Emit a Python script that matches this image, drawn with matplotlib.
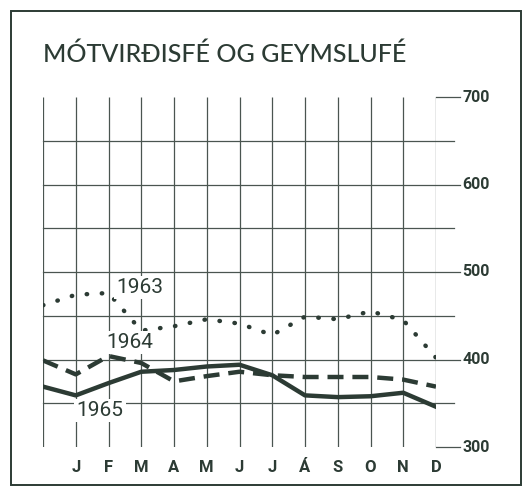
import matplotlib.pyplot as plt
from matplotlib.patches import Rectangle

# month index 0 = start of year, 1..12 = end of each month
months = ["J", "F", "M", "A", "M", "J", "J", "Á", "S", "O", "N", "D"]
x = list(range(13))

v1963 = [462, 474, 476, 433, 438, 446, 441, 428, 449, 446, 455, 445, 402]
v1964 = [399, 383, 404, 396, 375, 381, 386, 382, 380, 380, 380, 377, 369]
v1965 = [369, 359, 373, 386, 388, 392, 394, 382, 359, 357, 358, 362, 346]

yticks = [300, 400, 500, 600, 700]
title = "MÓTVIRÐISFÉ OG GEYMSLUFÉ"

ink = "#2c3b34"
grid = "#4a5550"

W, H = 525, 487
fig = plt.figure(figsize=(W / 100, H / 100), dpi=100)
fig.patch.set_facecolor("white")

# outer frame
fig.patches.append(Rectangle((11 / W, 1 - 485 / H), (521 - 11) / W, (485 - 11) / H,
                             transform=fig.transFigure, fill=False,
                             edgecolor=ink, linewidth=1.4))

ax = fig.add_axes([43 / W, 1 - 447 / H, (436 - 43) / W, 350 / H])
ax.set_xlim(0, 12)
ax.set_ylim(300, 700)
ax.axis("off")

# grid
ax.vlines(x, 300, 700, color=grid, linewidth=0.9)
for v in range(350, 700, 50):
    xe = 12.72 if v % 100 == 0 else 12.55
    ax.plot([0, xe], [v, v], color=grid, linewidth=0.9, clip_on=False)
for v in (300, 700):
    ax.plot([12, 12.72], [v, v], color=grid, linewidth=0.9, clip_on=False)
for v in yticks:
    ax.text(12.8, v, str(v), ha="left", va="center", fontsize=11.5,
            fontweight="semibold", family="Roboto", color=ink)

for i, m in enumerate(months):
    ax.text(i + 1, 277, m, ha="center", va="center", fontsize=12,
            fontweight="semibold", family="Roboto", color=ink, clip_on=False)

ax.plot(x, v1963, color=ink, linewidth=3.2, linestyle=(0, (0.1, 3.3)),
        dash_capstyle="round", solid_capstyle="round")
ax.plot(x, v1964, color=ink, linewidth=3.2, linestyle=(0, (3.6, 2)))
ax.plot(x, v1965, color=ink, linewidth=3.2)

lab = dict(fontsize=15, family="Roboto", color=ink, ha="center", va="center",
           bbox=dict(facecolor="white", edgecolor="none", pad=1.5))
ax.text(2.96, 482, "1963", **lab)
ax.text(2.66, 419, "1964", **lab)
ax.text(1.74, 342, "1965", **lab)

fig.text(43 / W, 1 - 54 / H, title, ha="left", va="center", fontsize=18,
         fontweight="medium", family="Lato", color=ink)

fig.savefig("out.png", dpi=100)
